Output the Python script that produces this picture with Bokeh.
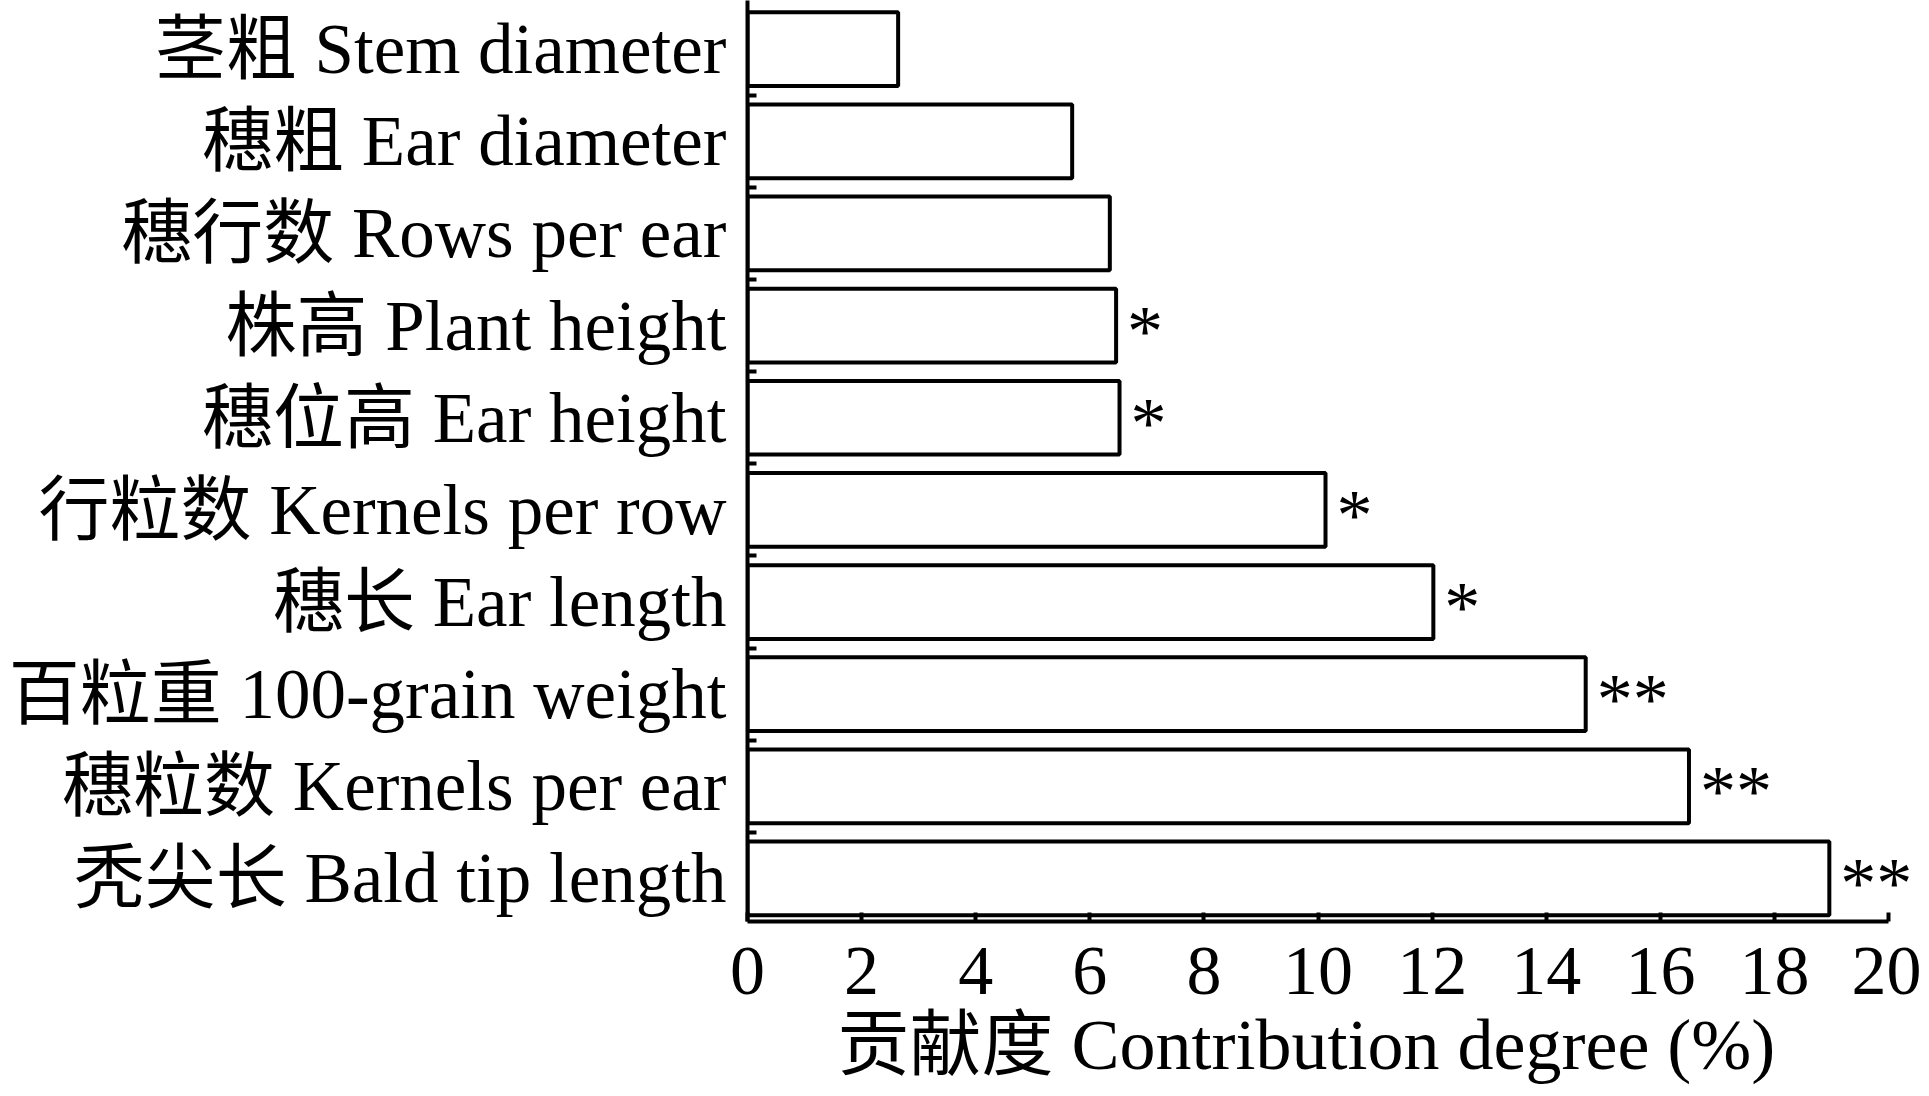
from bokeh.plotting import figure
from bokeh.models import Range1d, FixedTicker, ColumnDataSource, Title
from bokeh.embed import file_html
from bokeh.resources import INLINE
from bokeh.core.properties import value

# Data (top to bottom as in the chart)
traits = ["茎粗 Stem diameter", "穗粗 Ear diameter", "穗行数 Rows per ear", "株高 Plant height",
          "穗位高 Ear height", "行粒数 Kernels per row", "穗长 Ear length", "百粒重 100-grain weight",
          "穗粒数 Kernels per ear", "秃尖长 Bald tip length"]
contribution = [2.64, 5.69, 6.35, 6.46, 6.52, 10.13, 12.02, 14.69, 16.50, 18.96]
significance = ["", "", "", "*", "*", "*", "*", "**", "**", "**"]
x_ticks = [0, 2, 4, 6, 8, 10, 12, 14, 16, 18, 20]
x_title = "贡献度 Contribution degree (%)"

n = len(traits)
ypos = [n - 1 - i for i in range(n)]
centers = list(range(n))
boundaries = [c + 0.5 for c in range(n - 1)]

FONT = "'Liberation Serif', 'Noto Sans CJK SC', serif"

src = ColumnDataSource(dict(y=ypos, v=contribution, sig=significance))

p = figure(width=1921, height=1096, output_backend="svg", toolbar_location=None,
           x_range=Range1d(0, 20.4), y_range=Range1d(-0.467, 9.528),
           min_border_left=747, min_border_right=10, min_border_top=0, min_border_bottom=175)
p.outline_line_color = None
p.grid.visible = False
p.background_fill_color = "white"
p.border_fill_color = "white"

p.hbar(y="y", left=0, right="v", height=0.8, source=src,
       fill_color="white", line_color="black", line_width=4)

p.text(x="v", y="y", text="sig", source=src, x_offset=11, y_offset=5,
       text_font=value("Liberation Serif"), text_font_size="72px",
       text_baseline="middle", text_align="left", text_color="black")

# x axis
xa = p.xaxis[0]
xa.ticker = FixedTicker(ticks=x_ticks)
xa.bounds = (0, 20)
xa.axis_line_width = 4
xa.axis_line_color = "black"
xa.major_tick_line_width = 4
xa.major_tick_in = 9
xa.major_tick_out = 0
xa.minor_tick_line_color = None
xa.major_label_text_font = FONT
xa.major_label_text_font_size = "70px"
xa.major_label_text_color = "black"
xa.major_label_standoff = 26

t = Title(text=x_title, align="left", offset=90, standoff=13,
          text_font=FONT, text_font_size="72px", text_font_style="normal", text_color="black")
p.add_layout(t, "below")

# y axis
ya = p.yaxis[0]
ya.ticker = FixedTicker(ticks=centers, minor_ticks=boundaries)
ya.major_label_overrides = {c: traits[n - 1 - c] for c in centers}
ya.axis_line_width = 4
ya.axis_line_color = "black"
ya.major_tick_line_color = None
ya.major_tick_in = 0
ya.major_tick_out = 0
ya.minor_tick_line_width = 4
ya.minor_tick_line_color = "black"
ya.minor_tick_in = 9
ya.minor_tick_out = 0
ya.major_label_text_font = FONT
ya.major_label_text_font_size = "71px"
ya.major_label_text_color = "black"
ya.major_label_standoff = 21

open("out.html", "w").write(file_html(p, INLINE))
